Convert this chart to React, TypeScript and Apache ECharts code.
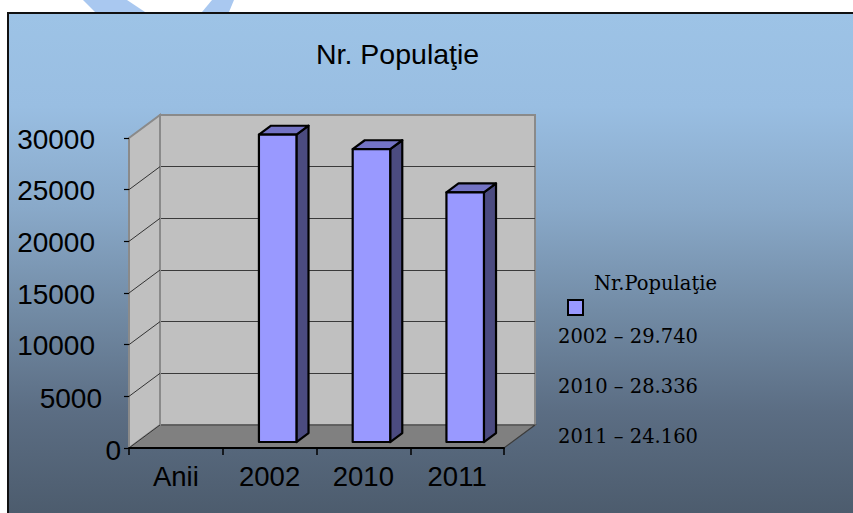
import React, { useEffect, useRef } from "react";
import * as echarts from "echarts";

// ---- data ----
const categories = ["Anii", "2002", "2010", "2011"];
const years = ["2002", "2010", "2011"];
const population = [29740, 28336, 24160];
const yTicks = [0, 5000, 10000, 15000, 20000, 25000, 30000];
const seriesName = "Nr.Populaţie";
const titleText = "Nr. Populaţie";

// ---- layout / style constants ----
const W = 853;
const H = 513;
const BACK = { left: 160, top: 115, width: 375, height: 310 };
const DEPTH = { dx: -31, dy: 23 };
const BAR_FRONT = 0.74;
const BAR_BACK = 0.35;
const BAR_WIDTH = 0.4;
const SANS = "Liberation Sans, Arial, sans-serif";
const SERIF = "DejaVu Serif, serif";

function fmtRo(v: number): string {
  const th = Math.floor(v / 1000);
  const r = v % 1000;
  return th ? th + "." + String(r).padStart(3, "0") : String(r);
}

export default function App() {
  const ref = useRef<HTMLDivElement>(null);

  useEffect(() => {
    const chart = echarts.init(ref.current!, null, { renderer: "svg", width: W, height: H });
    const yMax = yTicks[yTicks.length - 1];
    const yInterval = yTicks[1] - yTicks[0];

    const option: any = {
      animation: false,
      backgroundColor: "transparent",
      title: {
        text: titleText,
        left: 316,
        top: 39,
        padding: 0,
        textStyle: { fontFamily: SANS, fontSize: 28.5, fontWeight: "normal", color: "#000" },
      },
      legend: {
        data: [
          {
            name: seriesName,
            icon: "rect",
            itemStyle: { color: "#9999ff", borderColor: "#000", borderWidth: 2 },
          },
        ],
        left: 567,
        top: 273.5,
        padding: 0,
        itemWidth: 15,
        itemHeight: 15,
        formatter: (name: string) => `{n|${name}}`,
        textStyle: {
          rich: {
            n: {
              fontFamily: SERIF,
              fontSize: 19.5,
              color: "#000",
              lineHeight: 24,
              padding: [0, 0, 48, 6],
            },
          },
        },
      },
      grid: [
        {
          left: BACK.left,
          top: BACK.top,
          width: BACK.width,
          height: BACK.height,
          show: true,
          backgroundColor: "#c0c0c0",
          borderColor: "#8a8a8a",
          borderWidth: 2,
        },
        {
          left: BACK.left + DEPTH.dx,
          top: BACK.top + DEPTH.dy,
          width: BACK.width,
          height: BACK.height,
          show: false,
        },
      ],
      xAxis: [
        {
          gridIndex: 0,
          type: "category",
          data: categories,
          z: 1,
          axisLine: { show: false },
          axisTick: { show: false },
          axisLabel: { show: false },
          splitLine: { show: false },
        },
        {
          gridIndex: 1,
          type: "category",
          data: categories,
          z: 5,
          axisLine: { show: true, lineStyle: { color: "#000", width: 2 } },
          axisTick: { show: true, length: 7, lineStyle: { color: "#000", width: 1.5 } },
          axisLabel: { fontFamily: SANS, fontSize: 27.5, color: "#000", margin: 14 },
          splitLine: { show: false },
        },
      ],
      yAxis: [
        {
          gridIndex: 0,
          type: "value",
          min: 0,
          max: yMax,
          interval: yInterval,
          z: 1,
          axisLine: { show: false },
          axisTick: { show: false },
          axisLabel: { show: false },
          splitLine: {
            show: true,
            showMaxLine: false,
            lineStyle: { color: "#3a3a3a", width: 1 },
          },
        },
        {
          gridIndex: 1,
          type: "value",
          min: 0,
          max: yMax,
          interval: yInterval,
          z: 5,
          axisLine: { show: false },
          axisTick: { show: true, length: 5, lineStyle: { color: "#000", width: 1.2 } },
          splitLine: { show: false },
          axisLabel: {
            margin: 8,
            formatter: (v: number) =>
              v === 0 ? `{z|${v}}` : v === 5000 ? `{m|${v}}` : `{l|${v}}`,
            rich: {
              z: { fontFamily: SANS, fontSize: 28, color: "#000", padding: [4, 0, 0, 0] },
              m: { fontFamily: SANS, fontSize: 28, color: "#000", padding: [4, 19, 0, 0] },
              l: { fontFamily: SANS, fontSize: 28, color: "#000", padding: [2, 26, 0, 0] },
            },
          },
        },
      ],
      series: [
        {
          type: "custom",
          name: "walls",
          xAxisIndex: 0,
          yAxisIndex: 0,
          z: 2,
          clip: false,
          silent: true,
          data: [[0, 0]],
          renderItem: (params: any, api: any) => {
            const cs = params.coordSys;
            const X = cs.x;
            const Y = cs.y;
            const Wd = cs.width;
            const Ht = cs.height;
            const { dx, dy } = DEPTH;
            const children: any[] = [];
            children.push({
              type: "polygon",
              shape: {
                points: [
                  [X, Y + Ht],
                  [X + Wd, Y + Ht],
                  [X + Wd + dx, Y + Ht + dy],
                  [X + dx, Y + Ht + dy],
                ],
              },
              style: { fill: "#808080", stroke: "#3c3c3c", lineWidth: 1.2 },
            });
            children.push({
              type: "polygon",
              shape: {
                points: [
                  [X, Y],
                  [X, Y + Ht],
                  [X + dx, Y + Ht + dy],
                  [X + dx, Y + dy],
                ],
              },
              style: { fill: "#c0c0c0", stroke: "#8a8a8a", lineWidth: 2 },
            });
            yTicks
              .filter((t) => t < yMax)
              .forEach((t) => {
                const y = api.coord([0, t])[1];
                children.push({
                  type: "line",
                  shape: { x1: X, y1: y, x2: X + dx, y2: y + dy },
                  style: { stroke: "#333", lineWidth: 1 },
                });
              });
            return { type: "group", children };
          },
        },
        {
          type: "custom",
          name: seriesName,
          xAxisIndex: 0,
          yAxisIndex: 0,
          z: 3,
          clip: false,
          itemStyle: { color: "#9999ff" },
          encode: { x: 0, y: 1 },
          data: years.map((y, i) => [categories.indexOf(y), population[i]]),
          renderItem: (params: any, api: any) => {
            const ci = api.value(0);
            const v = api.value(1);
            const band = api.size([1, 0])[0];
            const w = band * BAR_WIDTH;
            const { dx, dy } = DEPTH;
            const b = api.coord([ci, 0]);
            const t = api.coord([ci, v]);
            const x0 = b[0] + BAR_FRONT * dx - w / 2;
            const x1 = x0 + w;
            const yb = b[1] + BAR_FRONT * dy;
            const yt = t[1] + BAR_FRONT * dy;
            const sx = (BAR_BACK - BAR_FRONT) * dx;
            const sy = (BAR_BACK - BAR_FRONT) * dy;
            const stroke = { stroke: "#000", lineWidth: 2.2, lineJoin: "round" };
            return {
              type: "group",
              children: [
                {
                  type: "polygon",
                  shape: { points: [[x1, yt], [x1 + sx, yt + sy], [x1 + sx, yb + sy], [x1, yb]] },
                  style: { fill: "#4b4b80", ...stroke },
                },
                {
                  type: "polygon",
                  shape: { points: [[x0, yt], [x1, yt], [x1 + sx, yt + sy], [x0 + sx, yt + sy]] },
                  style: { fill: "#7373c4", ...stroke },
                },
                {
                  type: "rect",
                  shape: { x: x0, y: yt, width: w, height: yb - yt },
                  style: { fill: "#9999ff", ...stroke },
                },
              ],
            };
          },
        },
      ],
      graphic: [
        {
          type: "polygon",
          shape: { points: [[83, 0], [127, 0], [145, 12], [95, 12]] },
          style: { fill: "#a9c8f0" },
          silent: true,
        },
        {
          type: "polygon",
          shape: { points: [[212, 0], [234, 0], [229, 12], [202, 12]] },
          style: { fill: "#a9c8f0" },
          silent: true,
        },
        ...years.map((y, i) => ({
          type: "text",
          x: 558,
          y: 336 + i * 50,
          silent: true,
          style: {
            text: `${y} – ${fmtRo(population[i])}`,
            fill: "#000",
            fontFamily: SERIF,
            fontSize: 19.5,
            verticalAlign: "middle",
          },
        })),
      ],
    };

    chart.setOption(option);
    return () => chart.dispose();
  }, []);

  return (
    <div
      style={{
        position: "fixed",
        left: 0,
        top: 0,
        width: W,
        height: H,
        background: "#fff",
        overflow: "hidden",
      }}
    >
      <div
        style={{
          position: "absolute",
          left: 7,
          top: 12,
          width: W,
          height: H,
          boxSizing: "border-box",
          borderLeft: "2px solid #111",
          borderTop: "2px solid #111",
          background:
            "linear-gradient(to bottom, #9DC3E6 0%, #99BEE2 18%, #89A9C9 38%, #728BA5 58%, #5B6D83 78%, #4B5A6B 100%)",
        }}
      />
      <div ref={ref} style={{ position: "absolute", left: 0, top: 0, width: W, height: H }} />
    </div>
  );
}
